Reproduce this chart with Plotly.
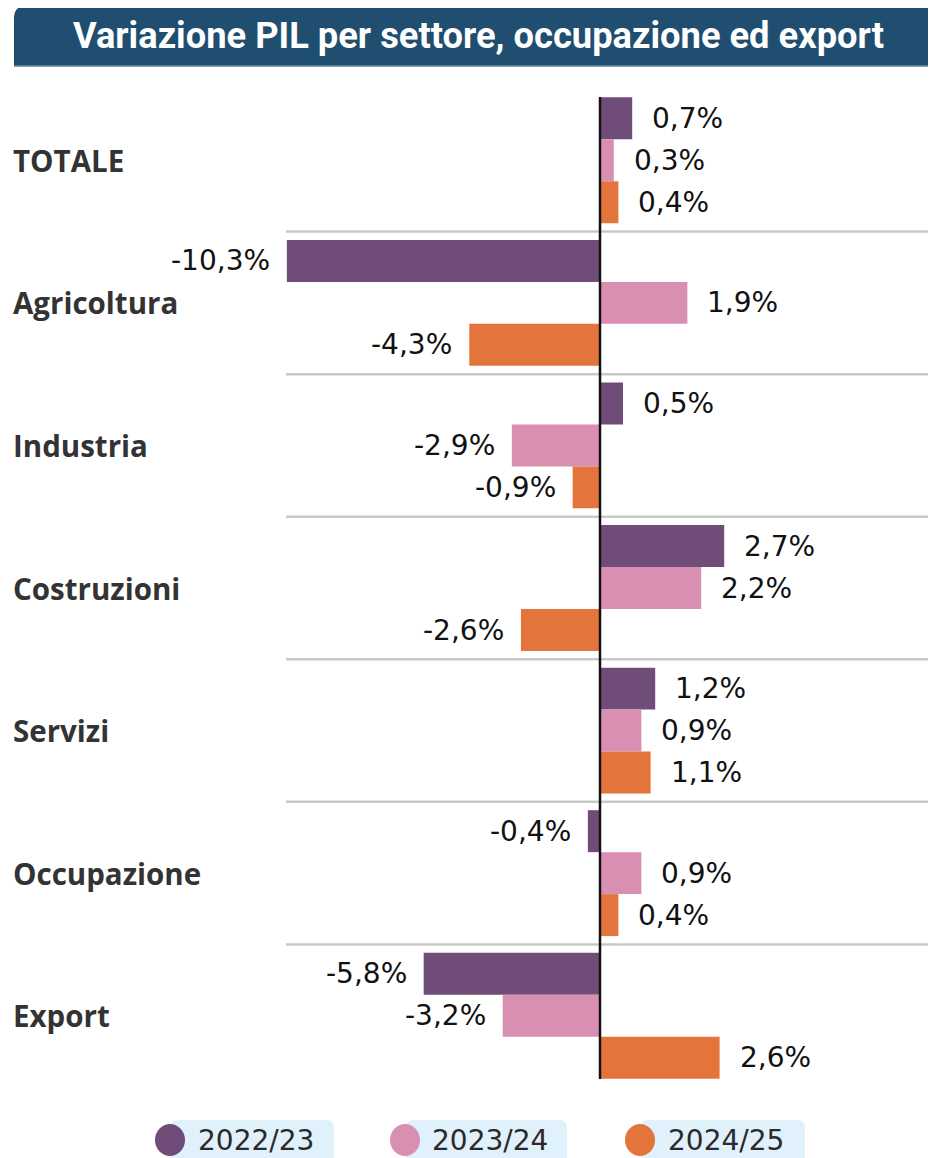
import plotly.graph_objects as go

categories = ["TOTALE", "Agricoltura", "Industria", "Costruzioni", "Servizi", "Occupazione", "Export"]
series_names = ["2022/23", "2023/24", "2024/25"]
v_2022_23 = [0.7, -10.3, 0.5, 2.7, 1.2, -0.4, -5.8]
v_2023_24 = [0.3, 1.9, -2.9, 2.2, 0.9, 0.9, -3.2]
v_2024_25 = [0.4, -4.3, -0.9, -2.6, 1.1, 0.4, 2.6]
series_values = [v_2022_23, v_2023_24, v_2024_25]
colors = ["#704c78", "#d98fb2", "#e3743b"]

OFF = 8  # page body margin
W, H = 936 - OFF, 1158 - OFF
# plot area in screen pixels
L, R, T, B = 282, 936, 89, 1087
PW, PH = R - L, B - T
SEP_X0 = 286


def X(px):
    return (px - L) / PW


def Y(py):
    return (B - py) / PH


ZERO = 600
S_NEG = 30.4   # px per unit, negative side
S_POS = 46.0   # px per unit, positive side
neg_range = [-(ZERO - L) / S_NEG, (R - ZERO) / S_NEG]
pos_range = [-(ZERO - L) / S_POS, (R - ZERO) / S_POS]

fig = go.Figure()
for name, vals, col in zip(series_names, series_values, colors):
    neg = [v if v < 0 else None for v in vals]
    pos = [v if v >= 0 else None for v in vals]
    fig.add_trace(go.Bar(y=categories, x=neg, orientation="h", marker=dict(color=col, line=dict(width=0)),
                         name=name, xaxis="x", yaxis="y", showlegend=False, hoverinfo="skip"))
    fig.add_trace(go.Bar(y=categories, x=pos, orientation="h", marker=dict(color=col, line=dict(width=0)),
                         name=name, xaxis="x2", yaxis="y", showlegend=False, hoverinfo="skip"))

annotations = []
shapes = []

VAL_FONT = "DejaVu Sans, Liberation Sans, sans-serif"

# value labels
yshifts = [42, 0, -42]
for vals, ys in zip(series_values, yshifts):
    for cat, v in zip(categories, vals):
        txt = f"{v:.1f}".replace(".", ",") + "%"
        annotations.append(dict(
            x=v, y=cat, xref="x" if v < 0 else "x2", yref="y", text=txt, showarrow=False,
            xanchor="right" if v < 0 else "left", xshift=-15 if v < 0 else 18, yshift=ys,
            font=dict(family=VAL_FONT, size=28, color="#111111")))

# category labels
for cat in categories:
    annotations.append(dict(
        x=X(11), y=cat, xref="paper", yref="y", text=f"<b>{cat}</b>", showarrow=False,
        xanchor="left", yanchor="middle",
        font=dict(family="Open Sans, sans-serif", size=29.5, color="#333333")))

# separators
for k in range(len(categories) - 1):
    shapes.append(dict(type="line", xref="paper", yref="y", x0=X(SEP_X0), x1=1, y0=k + 0.5, y1=k + 0.5,
                       line=dict(color="#c8c8c8", width=2.5), layer="below"))

# zero line
shapes.append(dict(type="line", xref="paper", yref="paper", x0=X(ZERO), x1=X(ZERO), y0=Y(97), y1=Y(1079),
                   line=dict(color="#111111", width=2.5), layer="above"))

# title banner
r = 12
path = (f"M {X(14)},{Y(66)} L {X(14)},{Y(6 + r)} Q {X(14)},{Y(6)} {X(14 + r)},{Y(6)} "
        f"L {X(940)},{Y(6)} L {X(940)},{Y(66)} Z")
shapes.append(dict(type="path", xref="paper", yref="paper", path=path,
                   fillcolor="#1f4e70", line=dict(width=0)))
shapes.append(dict(type="line", xref="paper", yref="paper", x0=X(14), x1=X(940), y0=Y(66), y1=Y(66),
                   line=dict(color="#5f86a3", width=1.5)))
annotations.append(dict(x=X(478), y=Y(36), xref="paper", yref="paper",
                        text="<b>Variazione PIL per settore, occupazione ed export</b>",
                        showarrow=False, xanchor="center", yanchor="middle",
                        font=dict(family="Roboto, sans-serif", size=36.3, color="white")))

# legend
legend_items = [(155, 170, 334, 196), (390, 406, 567, 430), (625, 641, 805, 666)]
for (cx, bx0, bx1, tx), name, col in zip(legend_items, series_names, colors):
    rr = 8
    bpath = (f"M {X(bx0)},{Y(1162)} L {X(bx0)},{Y(1120 + rr)} Q {X(bx0)},{Y(1120)} {X(bx0 + rr)},{Y(1120)} "
             f"L {X(bx1 - rr)},{Y(1120)} Q {X(bx1)},{Y(1120)} {X(bx1)},{Y(1120 + rr)} L {X(bx1)},{Y(1162)} Z")
    shapes.append(dict(type="path", xref="paper", yref="paper", path=bpath,
                       fillcolor="#e1f1fb", line=dict(width=0)))
    shapes.append(dict(type="circle", xref="paper", yref="paper", x0=X(cx), x1=X(cx + 30),
                       y0=Y(1156), y1=Y(1124), fillcolor=col, line=dict(width=0)))
    annotations.append(dict(x=X(tx), y=Y(1140), xref="paper", yref="paper", text=name, showarrow=False,
                            xanchor="left", yanchor="middle",
                            font=dict(family=VAL_FONT, size=28, color="#2a2a2a")))

fig.update_layout(
    width=W, height=H,
    margin=dict(l=L - OFF, r=(W + OFF) - R, t=T - OFF, b=(H + OFF) - B),
    paper_bgcolor="white", plot_bgcolor="white",
    barmode="group", bargap=0.117, bargroupgap=0,
    showlegend=False,
    xaxis=dict(range=neg_range, visible=False, fixedrange=True),
    xaxis2=dict(range=pos_range, visible=False, overlaying="x", fixedrange=True),
    yaxis=dict(type="category", categoryorder="array", categoryarray=categories,
               range=[len(categories) - 0.5, -0.5], visible=False, fixedrange=True),
    annotations=annotations, shapes=shapes,
)

fig.write_html("out.html")
